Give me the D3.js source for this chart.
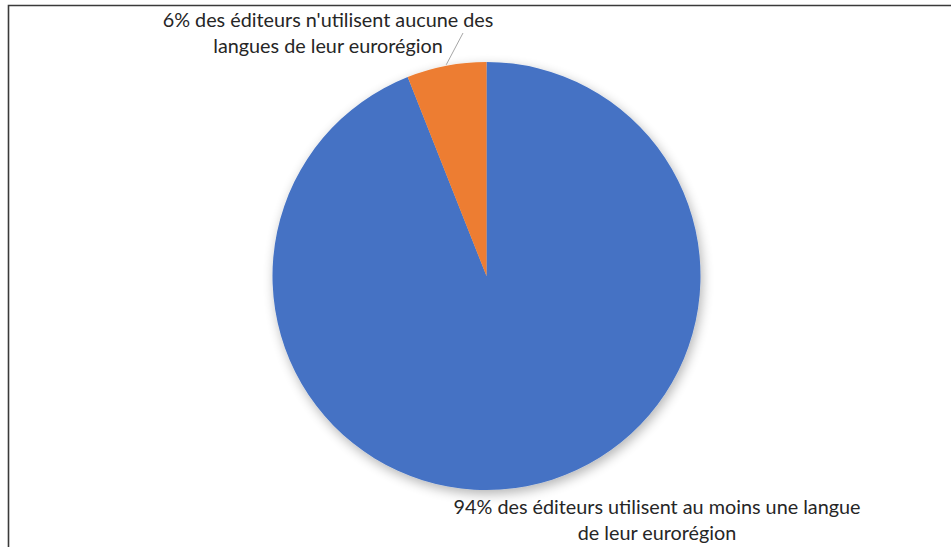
<!DOCTYPE html>
<html><head><meta charset="utf-8">
<script src="https://cdn.jsdelivr.net/npm/d3@7"></script>
<style>body{margin:0;background:#fff;} svg{display:block;}</style>
</head><body>
<svg id="c" width="951" height="547"></svg>
<script>
const categories = ["94% des éditeurs utilisent au moins une langue de leur eurorégion", "6% des éditeurs n'utilisent aucune des langues de leur eurorégion"];
const values = [94, 6];
const colors = ["#4472C4", "#ED7D31"];
const labelLines = [["94% des éditeurs utilisent au moins une langue", "de leur eurorégion"], ["6% des éditeurs n'utilisent aucune des", "langues de leur eurorégion"]];

const svg = d3.select("#c");
const W = 951, H = 547;
const cx = 486.5, cy = 276, r = 214;

// frame
svg.append("path").attr("d", `M8.5,${H} L8.5,5.5 L${W},5.5`).attr("fill","none").attr("stroke","#3a3a3a").attr("stroke-width",1.6);

const defs = svg.append("defs");
const f = defs.append("filter").attr("id","sh").attr("x","-20%").attr("y","-20%").attr("width","140%").attr("height","140%");
f.append("feGaussianBlur").attr("in","SourceAlpha").attr("stdDeviation",6).attr("result","b");
f.append("feOffset").attr("in","b").attr("dx",2).attr("dy",4).attr("result","o");
f.append("feComponentTransfer").attr("in","o").attr("result","o2").append("feFuncA").attr("type","linear").attr("slope",0.3);
const m = f.append("feMerge"); m.append("feMergeNode").attr("in","o2"); m.append("feMergeNode").attr("in","SourceGraphic");

const pie = d3.pie().sort(null).value(d => d)(values);
const arc = d3.arc().innerRadius(0).outerRadius(r);
const g = svg.append("g").attr("transform", `translate(${cx},${cy})`).attr("filter","url(#sh)");
g.selectAll("path").data(pie).join("path").attr("d", arc).attr("fill", (d,i) => colors[i]);

// leader line for small slice
const s = pie[1];
const mid = (s.startAngle + s.endAngle) / 2;
const p0 = [cx + Math.sin(mid) * (r + 1), cy - Math.cos(mid) * (r + 1)];
svg.append("line").attr("x1", p0[0]).attr("y1", p0[1]).attr("x2", 463).attr("y2", 33).attr("stroke","#a6a6a6").attr("stroke-width",1);

const font = "Lato, 'Open Sans', sans-serif";
function label(lines, x, y0) {
  const t = svg.append("text").attr("text-anchor","middle").attr("font-family",font).attr("font-size",19.8).attr("fill","#262626");
  lines.forEach((l,i) => t.append("tspan").attr("x", x).attr("y", y0 + i*25.5).text(l));
}
label(labelLines[1], 328, 27);
label(labelLines[0], 657, 514);
</script>
</body></html>
